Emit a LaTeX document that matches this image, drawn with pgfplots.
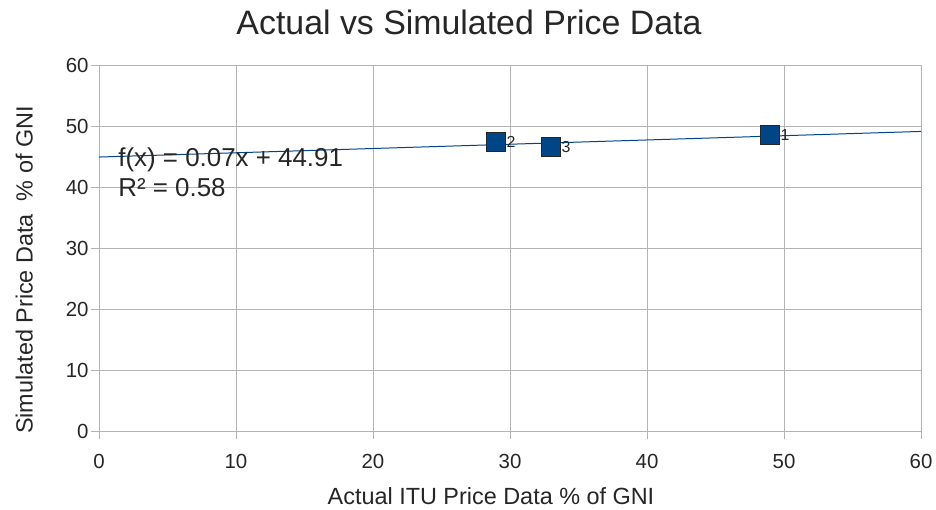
\documentclass[border=0pt]{standalone}
\usepackage{pgfplots}
\pgfplotsset{compat=1.18}
\usepackage{fontspec}
\setmainfont{Liberation Sans}
\definecolor{ptblue}{HTML}{004586}
\definecolor{gridgray}{HTML}{B3B3B3}

\begin{document}
\begin{tikzpicture}
\begin{axis}[
  name=main,
  scale only axis,
  width=822bp,
  height=366bp,
  xmin=0, xmax=60,
  ymin=0, ymax=60,
  xtick={0,10,...,60},
  ytick={0,10,...,60},
  grid=major,
  grid style={gridgray, line width=0.9bp},
  axis line style={gridgray, line width=0.9bp},
  tick style={gridgray, line width=0.9bp},
  major tick length=8bp,
  tick align=outside,
  xtick pos=bottom,
  ytick pos=left,
  /pgf/number format/assume math mode=true,
  ticklabel style={font=\fontsize{20.5}{24}\selectfont, text=black!85},
  xticklabel style={yshift=-12bp},
  yticklabel style={xshift=1bp},
  title={Actual vs Simulated Price Data},
  title style={font=\fontsize{34}{39}\selectfont, text=black!85,
    xshift=-41bp, yshift=21bp},
  xlabel={Actual ITU Price Data \% of GNI},
  ylabel={Simulated Price Data\ \ \% of GNI},
  label style={font=\fontsize{23.5}{28}\selectfont, text=black!85},
  xlabel style={xshift=-19bp, yshift=-12bp},
  ylabel style={xshift=-22bp, yshift=26bp},
  clip=false,
]
\addplot[ptblue, line width=1bp, forget plot] coordinates {(0,44.91) (60,49.11)};
\addplot[
  only marks,
  mark=square*,
  mark size=9.5bp,
  mark options={fill=ptblue, draw=black!85, line width=0.8bp},
  nodes near coords,
  point meta=explicit symbolic,
  every node near coord/.append style={anchor=west, xshift=9.5bp, yshift=0bp,
    font=\fontsize{16}{18}\selectfont, text=black!85, inner sep=0.5bp},
] table[meta=label] {
x  y    label
49 48.5 1
29 47.4 2
33 46.5 3
};
\node[anchor=north west, align=left, inner sep=0pt, text=black!85,
  font=\fontsize{26}{30}\selectfont] at (axis cs:1.4,46.4)
  {f(x) = 0.07x + 44.91\\R² = 0.58};
\end{axis}
\pgfresetboundingbox
\path[use as bounding box] ([shift={(-99bp,-79bp)}]main.south west)
  rectangle ([shift={(15bp,65bp)}]main.north east);
\end{tikzpicture}
\end{document}
